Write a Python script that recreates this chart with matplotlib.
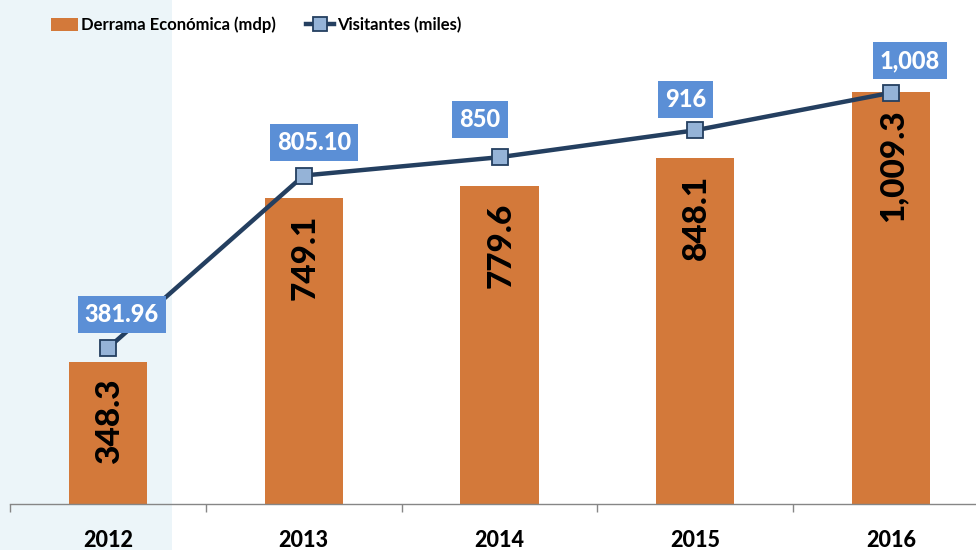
import matplotlib
matplotlib.use("Agg")
import matplotlib.pyplot as plt
from matplotlib.patches import Rectangle, Patch
from matplotlib.lines import Line2D

plt.rcParams['font.family'] = ['Lato', 'DejaVu Sans']

years = ['2012', '2013', '2014', '2015', '2016']
derrama = [348.3, 749.1, 779.6, 848.1, 1009.3]
visitantes = [381.96, 805.10, 850, 916, 1008]
derrama_labels = ['348.3', '749.1', '779.6', '848.1', '1,009.3']
visitantes_labels = ['381.96', '805.10', '850', '916', '1,008']

bar_color = '#D3793A'
line_color = '#243F60'
marker_face = '#95B3D7'
box_color = '#5B8FD6'

W, H = 976, 550
fig = plt.figure(figsize=(W / 100, H / 100), dpi=100)

# shaded band on the left
fig.patches.append(Rectangle((0, 0), 172 / W, 1, transform=fig.transFigure,
                             facecolor='#ECF5F9', edgecolor='none', zorder=-10))

ax = fig.add_axes([10 / W, 46 / H, 979 / W, 504 / H])
ax.set_facecolor('none')
x = list(range(len(years)))

ax.bar(x, derrama, width=0.40, color=bar_color, zorder=2)
ax.plot(x, visitantes, color=line_color, lw=3.2, marker='s', markersize=11.5,
        markerfacecolor=marker_face, markeredgecolor=line_color,
        markeredgewidth=1.3, zorder=3)

ax.set_xlim(-0.5, 4.5)
ax.set_ylim(0, 504 / 0.408)

# value labels inside bars
for xi, v, lab in zip(x, derrama, derrama_labels):
    ax.annotate(lab, (xi, v), xytext=(1, -12), textcoords='offset points',
                rotation=90, ha='center', va='top', fontsize=24,
                fontweight=900, color='black', zorder=4)

# value labels for the line
offsets = [(10, 24), (7.5, 23.5), (-14, 27), (-7, 22), (13.5, 23)]
for xi, v, lab, (dx, dy) in zip(x, visitantes, visitantes_labels, offsets):
    ax.annotate(lab, (xi, v), xytext=(dx, dy), textcoords='offset points',
                ha='center', va='center', fontsize=17, fontweight=900,
                color='white', zorder=5,
                bbox=dict(boxstyle='square,pad=0.3', facecolor=box_color,
                          edgecolor='none'))

for s in ['left', 'top', 'right']:
    ax.spines[s].set_visible(False)
ax.spines['bottom'].set_color('#868686')
ax.spines['bottom'].set_linewidth(1.0)
ax.set_yticks([])
ax.set_xticks(x)
ax.set_xticklabels(years, fontsize=15.5, fontweight=900)
ax.tick_params(axis='x', which='major', length=0, pad=18.5)
ax.set_xticks([i - 0.5 for i in range(len(years) + 1)], minor=True)
ax.tick_params(axis='x', which='minor', length=6, color='#868686', width=1.0)

handles = [Patch(facecolor=bar_color, edgecolor='none'),
           Line2D([0], [0], color=line_color, lw=3.2, marker='s', markersize=9.5,
                  markerfacecolor=marker_face, markeredgecolor=line_color,
                  markeredgewidth=1.3)]
fig.legend(handles, ['Derrama Económica (mdp)', 'Visitantes (miles)'],
           loc='center', bbox_to_anchor=(256 / W, 1 - 25 / H), ncol=2,
           frameon=False, handlelength=1.65, handleheight=0.9,
           handletextpad=0.2, columnspacing=1.8,
           prop={'weight': 'bold', 'size': 12})

fig.savefig('out.png', dpi=100)
